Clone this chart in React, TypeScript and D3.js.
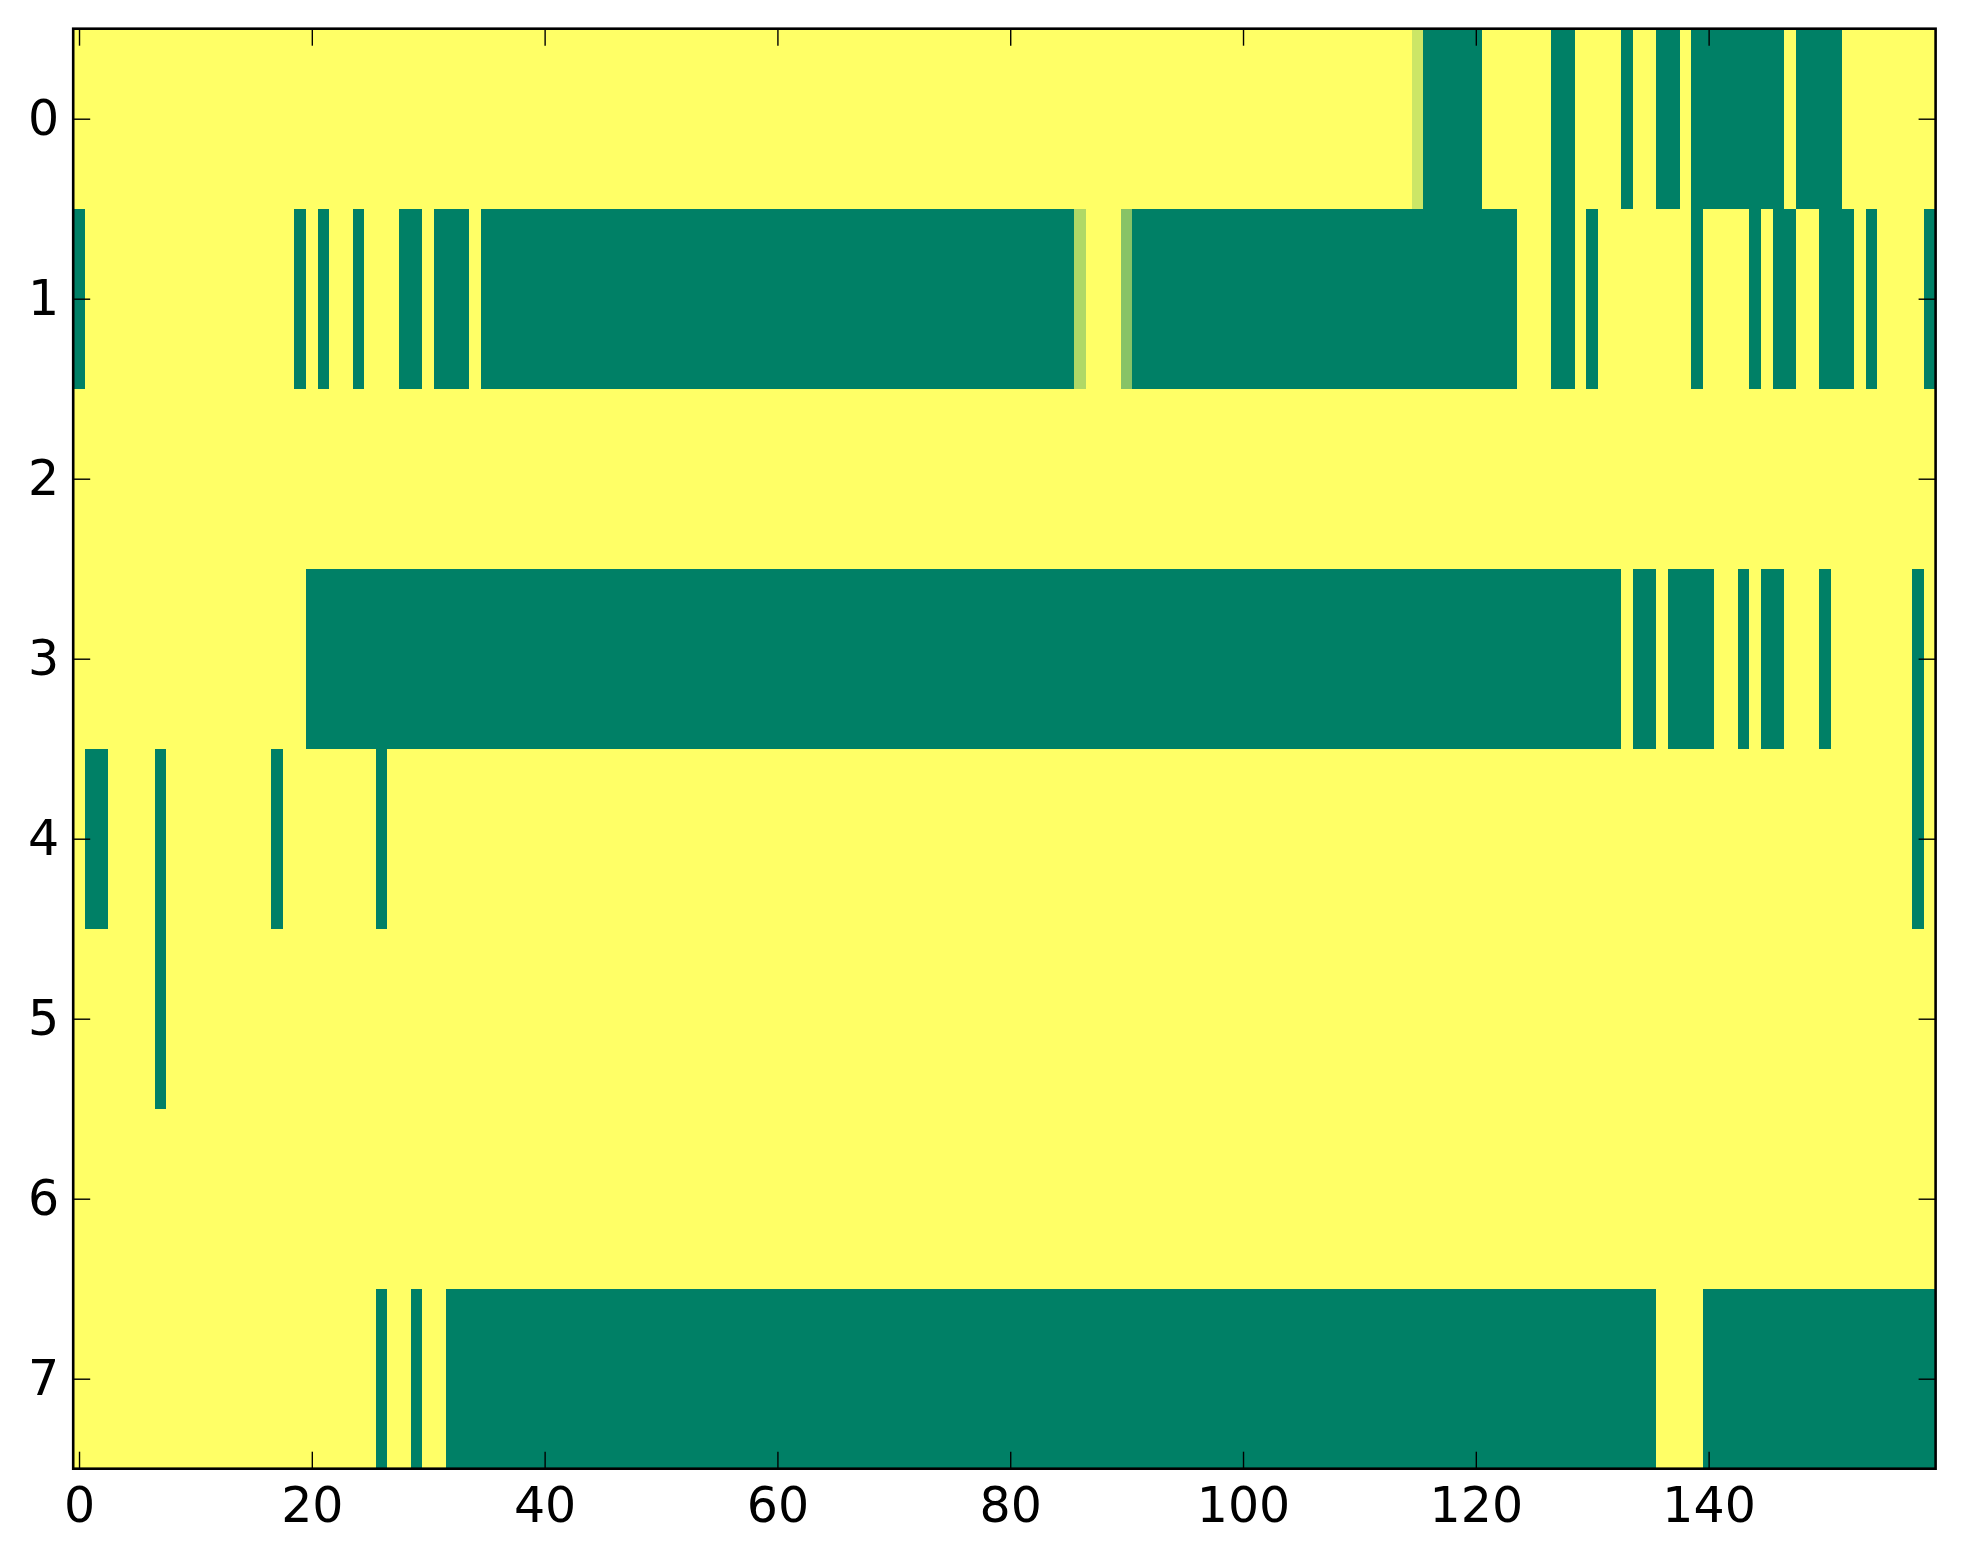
import React, { useEffect, useRef } from 'react';
import * as d3 from 'd3';

const NUM_COLS = 160;
const rowLabels = [0, 1, 2, 3, 4, 5, 6, 7];
const xTickValues = [0, 20, 40, 60, 80, 100, 120, 140];

// cells that sit at the low end of the colormap (value 0), as inclusive [from, to] column runs
const row0Low = [[116, 120], [127, 128], [133, 133], [136, 137], [139, 146], [148, 151]];
const row1Low = [
  [0, 0], [19, 19], [21, 21], [24, 24], [28, 29], [31, 33], [35, 85], [91, 123],
  [127, 128], [130, 130], [139, 139], [144, 144], [146, 147], [150, 152], [154, 154], [159, 159],
];
const row2Low: number[][] = [];
const row3Low = [[20, 132], [134, 135], [137, 140], [143, 143], [145, 146], [150, 150], [158, 158]];
const row4Low = [[1, 2], [7, 7], [17, 17], [26, 26], [158, 158]];
const row5Low = [[7, 7]];
const row6Low: number[][] = [];
const row7Low = [[26, 26], [29, 29], [32, 135], [140, 159]];

// a few cells in between
const partialCells = [
  { row: 0, col: 115, value: 0.8 },
  { row: 1, col: 86, value: 0.69 },
  { row: 1, col: 90, value: 0.53 },
];

const lowRuns = [row0Low, row1Low, row2Low, row3Low, row4Low, row5Low, row6Low, row7Low];

const WIDTH = 1963;
const HEIGHT = 1564;
const margin = { left: 73.2, right: 1963 - 1935.6, top: 28.7, bottom: 1564 - 1468.7 };

const App: React.FC = () => {
  const svgRef = useRef<SVGSVGElement | null>(null);

  useEffect(() => {
    if (!svgRef.current) return;
    document.body.style.margin = '0';

    // rebuild the full grid from the runs, everything else sits at 1
    const grid: { row: number; col: number; value: number }[] = [];
    rowLabels.forEach((r) => {
      const vals = new Array(NUM_COLS).fill(1);
      lowRuns[r].forEach(([a, b]) => {
        for (let c = a; c <= b; c++) vals[c] = 0;
      });
      partialCells.filter((p) => p.row === r).forEach((p) => { vals[p.col] = p.value; });
      vals.forEach((v, c) => grid.push({ row: r, col: c, value: v }));
    });

    const svg = d3.select(svgRef.current);
    svg.selectAll('*').remove();

    const x0 = margin.left;
    const x1 = WIDTH - margin.right;
    const y0 = margin.top;
    const y1 = HEIGHT - margin.bottom;

    const x = d3.scaleLinear().domain([-0.5, NUM_COLS - 0.5]).range([x0, x1]);
    const y = d3.scaleLinear().domain([-0.5, rowLabels.length - 0.5]).range([y0, y1]);
    // matplotlib "summer": (0, .5, .4) -> (1, 1, .4), linear per channel
    const color = d3.scaleLinear<string>().domain([0, 1]).range(['#008066', '#ffff66']).interpolate(d3.interpolateRgb);

    svg.append('g')
      .attr('shape-rendering', 'crispEdges')
      .selectAll('rect')
      .data(grid)
      .enter().append('rect')
        .attr('x', (d) => x(d.col - 0.5))
        .attr('y', (d) => y(d.row - 0.5))
        .attr('width', x(1) - x(0) + 0.4)
        .attr('height', y(1) - y(0) + 0.4)
        .attr('fill', (d) => color(d.value));

    const tickLen = 17;
    const font = "'DejaVu Sans', sans-serif";
    const fontSize = 49;

    const styleAxis = (g: d3.Selection<SVGGElement, unknown, null, undefined>) => {
      g.select('.domain').remove();
      g.selectAll('line').attr('stroke', '#000').attr('stroke-width', 1.4);
      g.selectAll('text').attr('fill', '#000').style('font-family', font).style('font-size', `${fontSize}px`);
    };

    svg.append('g')
      .attr('transform', `translate(0,${y1})`)
      .call(d3.axisBottom(x).tickValues(xTickValues).tickSize(-tickLen).tickPadding(19).tickFormat(d3.format('d')))
      .call(styleAxis);
    svg.append('g')
      .attr('transform', `translate(0,${y0})`)
      .call(d3.axisTop(x).tickValues(xTickValues).tickSize(-tickLen).tickFormat(() => ''))
      .call(styleAxis);
    svg.append('g')
      .attr('transform', `translate(${x0},0)`)
      .call(d3.axisLeft(y).tickValues(rowLabels).tickSize(-tickLen).tickPadding(14).tickFormat(d3.format('d')))
      .call(styleAxis);
    svg.append('g')
      .attr('transform', `translate(${x1},0)`)
      .call(d3.axisRight(y).tickValues(rowLabels).tickSize(-tickLen).tickFormat(() => ''))
      .call(styleAxis);

    // frame
    svg.append('rect')
      .attr('x', x0)
      .attr('y', y0)
      .attr('width', x1 - x0)
      .attr('height', y1 - y0)
      .attr('fill', 'none')
      .attr('stroke', '#000')
      .attr('stroke-width', 2.6);
  }, []);

  return <svg ref={svgRef} width={WIDTH} height={HEIGHT} style={{ display: 'block', background: '#fff' }}></svg>;
};

export default App;
